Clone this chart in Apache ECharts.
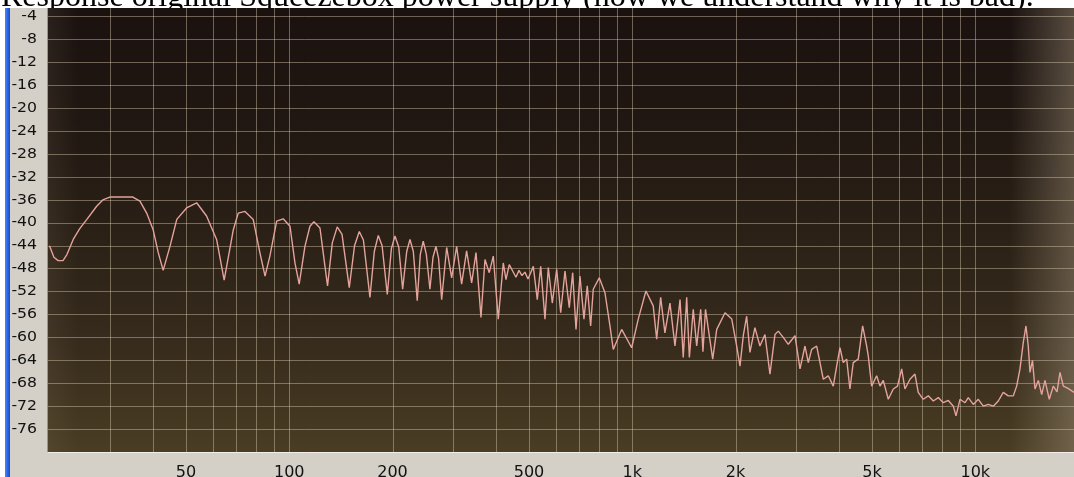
<!DOCTYPE html>
<html><head><meta charset="utf-8">
<script src="https://cdn.jsdelivr.net/npm/echarts@6/dist/echarts.min.js"></script>
<style>html,body{margin:0;padding:0;background:#fff;overflow:hidden;}#c{width:1074px;height:477px;}</style>
</head><body><div id="c"></div>
<script>
const titleText = 'Response original Squeezebox power supply (now we understand why it is bad).';

// frequency response: [Hz, dB]
const responseCurve = [
[20,-44.0],[20.6,-46.0],[21.2,-46.6],[21.9,-46.6],[22.5,-45.5],[23.45,-42.9],[24.5,-41.0],[25.7,-39.4],
[27.45,-37.1],[28.6,-36.0],[30.0,-35.5],[35.0,-35.5],[36.7,-36.2],[38.4,-38.3],[40.1,-41.2],[41.5,-45.2],
[42.9,-48.3],[44.9,-44.1],[47.0,-39.4],[50.2,-37.4],[53.7,-36.5],[57.4,-38.8],[61.4,-42.9],[64.6,-50.0],
[68.7,-41.2],[71.0,-38.3],[74.3,-38.0],[78.5,-39.4],[82.1,-45.2],[85.0,-49.3],[87.8,-45.8],[91.9,-39.7],
[96.0,-39.3],[100.5,-40.6],[103.9,-47.0],[106.9,-50.7],[111.1,-44.1],[114.9,-40.6],[118.0,-39.8],[122.9,-40.9],
[127.1,-47.6],[129.3,-51.0],[133.5,-43.5],[138.0,-40.7],[142.5,-42.0],[149.6,-51.3],[155,-44.0],[160.0,-41.5],
[164.5,-43.0],[171.9,-53.0],[177,-45.0],[181.8,-42.2],[186.5,-44.0],[193.1,-52.5],[198.5,-44.5],[203.3,-42.3],
[208.5,-44.2],[214.1,-51.6],[220,-45.0],[224.9,-42.9],[230,-45.0],[236.1,-53.6],[241,-45.5],[245.8,-43.2],
[251,-45.5],[257.1,-51.6],[262.5,-46.0],[267.7,-44.1],[272.5,-46.2],[278.2,-53.4],[287.7,-44.3],[297.5,-49.6],
[307.6,-44.1],[318.1,-50.7],[328.9,-44.9],[340.2,-50.5],[350.3,-45.2],[362.2,-56.5],[372.1,-46.4],[382.9,-48.7],
[393.4,-45.8],[406.8,-56.8],[420.7,-47.0],[428.4,-49.9],[437.9,-47.3],[448.8,-48.5],[458.0,-49.5],[467.4,-48.3],
[476.9,-49.2],[486.6,-48.6],[496.5,-49.8],[505.0,-48.8],[514.6,-47.6],[528.5,-53.4],[540.8,-47.6],[556.6,-56.8],
[569.1,-47.8],[584.6,-54.0],[602.1,-48.1],[618.5,-55.7],[636.6,-48.4],[655.2,-54.8],[670.3,-48.7],[685.4,-58.6],
[703.9,-49.3],[723.1,-56.8],[739.3,-51.0],[756.3,-58.0],[769.6,-51.6],[801.3,-49.6],[832.5,-52.2],[860.9,-58.0],
[880.2,-62.1],[931.3,-58.6],[996.1,-61.8],[1041,-56.8],[1096,-51.9],[1151,-54.5],[1178,-60.3],[1210,-53.0],
[1245,-59.2],[1288,-54.0],[1332,-61.5],[1378,-53.4],[1408,-63.5],[1441,-53.0],[1467,-63.5],[1506,-55.1],
[1541,-61.5],[1583,-55.1],[1607,-62.5],[1635,-55.1],[1716,-63.8],[1763,-58.6],[1864,-55.7],[1950,-56.8],
[2016,-61.5],[2061,-65.0],[2107,-59.7],[2155,-56.3],[2203,-62.6],[2278,-58.3],[2356,-61.5],[2437,-59.5],
[2520,-66.4],[2606,-59.5],[2665,-58.9],[2755,-60.0],[2850,-61.2],[2981,-59.7],[3083,-65.5],[3188,-61.5],
[3260,-64.4],[3334,-62.1],[3448,-61.5],[3526,-64.4],[3605,-67.3],[3728,-66.7],[3855,-68.5],[3944,-65.0],
[4032,-61.8],[4122,-64.4],[4217,-63.8],[4311,-69.0],[4408,-64.4],[4559,-63.8],[4695,-58.0],[4746,-57.7],
[4823,-61.5],[4875,-63.2],[4987,-68.5],[5158,-66.7],[5274,-68.5],[5392,-67.5],[5577,-70.8],[5767,-69.0],
[5932,-68.5],[6101,-65.5],[6237,-69.0],[6450,-67.3],[6670,-66.4],[6819,-69.6],[7052,-70.8],[7295,-70.2],
[7545,-71.1],[7801,-70.5],[8067,-71.4],[8344,-71.0],[8630,-72.0],[8785,-73.7],[9025,-70.8],[9333,-71.4],
[9541,-70.5],[9867,-71.7],[10204,-70.8],[10552,-72.0],[10911,-71.7],[11285,-72.0],[11670,-71.1],[12066,-69.6],
[12478,-70.2],[12906,-70.2],[13203,-68.5],[13500,-65.5],[13800,-60.9],[14052,-58.0],[14271,-61.5],[14437,-66.1],
[14683,-64.0],[14932,-69.0],[15266,-67.5],[15618,-70.0],[15967,-67.5],[16434,-70.8],[16883,-68.5],[17308,-69.5],
[17659,-66.1],[18057,-68.5],[18638,-68.9],[19404,-69.6]
];

const gridFreqs = [30,40,50,60,70,80,90,100,200,300,400,500,600,700,800,900,1000,2000,3000,4000,5000,6000,7000,8000,9000,10000];
const xTickValues = [50,100,200,500,1000,2000,5000,10000];
const xTickLabels = ['50','100','200','500','1k','2k','5k','10k'];
const yTickValues = [-4,-8,-12,-16,-20,-24,-28,-32,-36,-40,-44,-48,-52,-56,-60,-64,-68,-72,-76];

const xMin = 19.8, xMax = 19400, yMin = -80, yMax = -2.5, yStep = 4;

const chart = echarts.init(document.getElementById('c'), null, {renderer: 'canvas'});
const gridLineColor = 'rgba(225,210,180,0.42)';
const labelFont = '14px "DejaVu Sans", Verdana, sans-serif';

chart.setOption({
  animation: false,
  backgroundColor: '#ffffff',
  graphic: [
    {type: 'text', z: -20, x: 1, y: -2, style: {text: titleText, font: '32px "Liberation Serif", "Times New Roman", serif', fill: '#000', align: 'left', verticalAlign: 'middle'}},
    {type: 'rect', z: -10, shape: {x: 10, y: 8, width: 1064, height: 469}, style: {fill: '#d4d0c8'}},
    {type: 'rect', z: -10, shape: {x: 5, y: 8, width: 5, height: 469}, style: {fill: new echarts.graphic.LinearGradient(0, 0, 1, 0, [{offset: 0, color: '#4a86f4'}, {offset: 1, color: '#1148d8'}])}},
    {type: 'rect', z: -9, shape: {x: 48, y: 8, width: 1026, height: 444}, style: {fill: new echarts.graphic.LinearGradient(0, 0, 0, 1, [
      {offset: 0, color: '#1b1210'}, {offset: 0.25, color: '#201712'}, {offset: 0.5, color: '#2a2016'}, {offset: 0.75, color: '#362b1c'}, {offset: 1, color: '#4a3d24'}])}},
    {type: 'rect', z: -8, shape: {x: 1010, y: 8, width: 64, height: 444}, style: {fill: new echarts.graphic.LinearGradient(0, 0, 1, 0, [
      {offset: 0, color: 'rgba(150,135,112,0)'}, {offset: 1, color: 'rgba(150,135,112,0.5)'}])}},
    {type: 'rect', z: -8, shape: {x: 48, y: 8, width: 30, height: 444}, style: {fill: new echarts.graphic.LinearGradient(0, 0, 1, 0, [
      {offset: 0, color: 'rgba(150,135,112,0.12)'}, {offset: 1, color: 'rgba(150,135,112,0)'}])}},
    {type: 'line', z: -7, shape: {x1: 48, y1: 452.5, x2: 1074, y2: 452.5}, style: {stroke: '#f2efe8', lineWidth: 1}},
    {type: 'line', z: -7, shape: {x1: 47.5, y1: 8, x2: 47.5, y2: 452}, style: {stroke: '#9a968e', lineWidth: 1}}
  ],
  grid: {left: 48, right: 0, top: 8, bottom: 25, containLabel: false},
  xAxis: {type: 'log', logBase: 10, min: xMin, max: xMax,
    axisLine: {show: false}, axisTick: {show: false}, axisLabel: {show: false}, splitLine: {show: false}, minorSplitLine: {show: false}},
  yAxis: {type: 'value', min: yMin, max: yMax, interval: yStep,
    axisLine: {show: false}, axisTick: {show: false}, axisLabel: {show: false},
    splitLine: {show: true, showMinLine: false, showMaxLine: false, lineStyle: {color: gridLineColor, width: 1}}},
  series: [
    {type: 'custom', name: 'vgrid', z: 1, silent: true,
      data: gridFreqs.map(f => [f, yMin]),
      renderItem: function (params, api) {
        const f = api.value(0);
        const p0 = api.coord([f, yMin]);
        const p1 = api.coord([f, yMax]);
        const x = Math.round(p0[0]) + 0.5;
        return {type: 'line', shape: {x1: x, y1: p1[1], x2: x, y2: p0[1]}, style: {stroke: gridLineColor, lineWidth: 1}};
      }},
    {type: 'custom', name: 'xlabels', z: 5, silent: true,
      data: xTickValues.map(f => [f, yMin]),
      renderItem: function (params, api) {
        const p = api.coord([api.value(0), yMin]);
        return {type: 'text', x: p[0], y: p[1] + 21, scaleX: 1.07,
          style: {text: xTickLabels[params.dataIndex], x: 0, y: 0, font: '15px "DejaVu Sans", Verdana, sans-serif', fill: '#111', align: 'center', verticalAlign: 'middle'}};
      }},
    {type: 'custom', name: 'ylabels', z: 5, silent: true,
      data: yTickValues.map(v => [xMin, v]),
      renderItem: function (params, api) {
        const p = api.coord([xMin, api.value(1)]);
        return {type: 'text', x: p[0] - 11, y: p[1], scaleX: 1.12,
          style: {text: String(yTickValues[params.dataIndex]), x: 0, y: 0, font: labelFont, fill: '#111', align: 'right', verticalAlign: 'middle'}};
      }},
    {type: 'line', name: 'response', z: 3, data: responseCurve, showSymbol: false, symbol: 'none', smooth: false, clip: true,
      lineStyle: {color: '#e4a39b', width: 1.4}}
  ]
});
</script>
</body></html>
